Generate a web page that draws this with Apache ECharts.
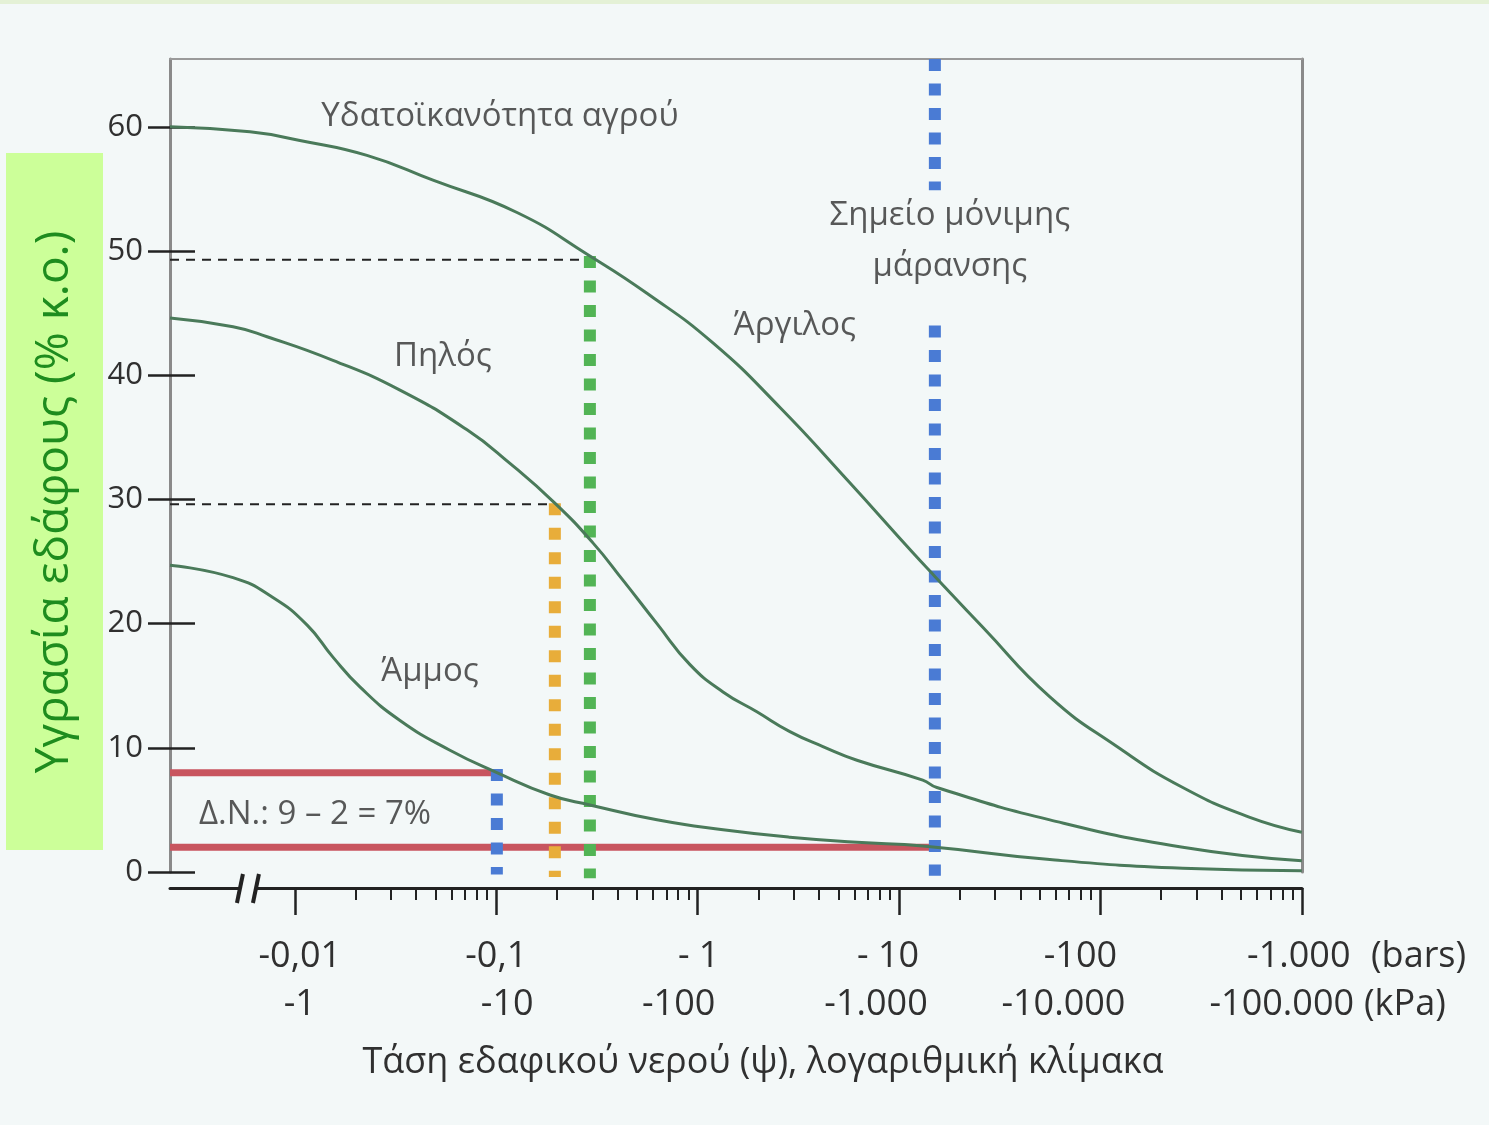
<!DOCTYPE html>
<html>
<head>
<meta charset="utf-8">
<script src="https://cdn.jsdelivr.net/npm/echarts@6/dist/echarts.min.js"></script>
<style>
  html, body { margin: 0; padding: 0; background: #f3f8f8; }
  #chart { width: 1489px; height: 1125px; }
</style>
</head>
<body>
<div id="chart"></div>
<script>
// x = log10(|ψ| σε bars), y = υγρασία εδάφους (% κ.ο.)
const clayX = [-2.62, -2.223, -1.975, -1.642, -1.314, -0.897, -0.535, -0.252, 0.076, 0.409, 0.741, 1.069, 1.178, 1.416, 1.749, 2.082, 2.409, 2.742, 3.0];
const clayY = [60.0, 59.6, 58.9, 57.7, 55.7, 53.1, 49.6, 46.6, 42.6, 37.4, 31.6, 25.7, 23.8, 19.7, 14.1, 10.1, 6.8, 4.4, 3.2];

const loamX = [-2.62, -2.307, -2.138, -1.811, -1.478, -1.145, -0.932, -0.709, -0.520, -0.371, -0.202, -0.038, 0.126, 0.294, 0.458, 0.622, 0.791, 1.118, 1.188, 1.749, 2.409, 3.0];
const loamY = [44.6, 43.9, 43.1, 41.2, 38.8, 35.6, 32.9, 29.7, 26.5, 23.5, 20.0, 16.7, 14.5, 12.9, 11.3, 10.1, 9.0, 7.4, 6.8, 4.2, 2.0, 0.9];

const sandX = [-2.62, -2.307, -2.109, -1.940, -1.811, -1.677, -1.478, -1.230, -0.997, -0.733, -0.535, -0.202, 0.126, 0.458, 0.791, 1.118, 1.749, 2.409, 3.0];
const sandY = [24.7, 23.7, 22.1, 19.9, 17.3, 14.9, 12.2, 9.8, 8.0, 6.2, 5.4, 4.2, 3.4, 2.8, 2.4, 2.1, 1.0, 0.3, 0.1];

// ψ των κατακόρυφων γραμμών (log10 bars)
const fcClayX = -0.535;   // πράσινη
const fcLoamX = -0.709;   // πορτοκαλί
const fcSandX = -0.997;   // μπλε (άμμος)
const wpX = 1.178;        // σημείο μόνιμης μάρανσης

// Δ.Ν. άμμου
const awcTop = 8.0;
const awcBottom = 2.0;

// άξονες
const xMin = -2.62, xMax = 3.001;
const yMin = 0, yMax = 65.46;
const yTicks = [0, 10, 20, 30, 40, 50, 60];
const xMajor = [-2, -1, 0, 1, 2, 3];
const barLabels = ['-0,01', '-0,1', '- 1', '- 10', '-100', '-1.000'];
const kpaLabels = ['-1', '-10', '-100', '-1.000', '-10.000', '-100.000'];
const unitLabels = ['(bars)', '(kPa)'];

const annoText = ['Υδατοϊκανότητα αγρού', 'Σημείο μόνιμης\nμάρανσης', 'Άργιλος', 'Πηλός', 'Άμμος', 'Δ.Ν.: 9 – 2 = 7%'];
const annoX = [-0.982, 1.252, 0.483, -1.265, -1.329, -1.900];
const annoY = [60.8, 50.8, 44.0, 41.5, 16.1, 4.6];

// --- styling ---
const FONT = "'Open Sans', 'Noto Sans', sans-serif";
const TXT = '#303030';
const CURVE = '#4a7a5a';
const barShift = [5, 0, 1, -11, -20, -3];
const kpaShift = [5, 11, -19, -23, -37, -20];
const unitGap = [69, 62];

var xMinor = [];
for (var d = -2; d < 3; d++) {
    for (var k = 2; k <= 9; k++) xMinor.push(d + Math.log10(k));
}

var rich = {};
function spacer(w) {
    rich['s' + w] = { width: w, fontSize: 36 };
    return '{s' + w + '| }';
}
function shifted(text, dx) {
    if (!dx) return text;
    var sp = spacer(Math.abs(dx) * 2);
    return dx > 0 ? sp + text : text + sp;
}
var xLabelText = xMajor.map(function (v, i) {
    return shifted(barLabels[i], barShift[i]) + '\n' + shifted(kpaLabels[i], kpaShift[i]);
});
var unitText = spacer(unitGap[0]) + unitLabels[0] + '\n' + spacer(unitGap[1]) + unitLabels[1];

function pairs(xs, ys) {
    return xs.map(function (x, i) { return [x, ys[i]]; });
}

function curve(name, xs, ys) {
    return {
        name: name, type: 'line', data: pairs(xs, ys),
        smooth: 0.5, symbol: 'none', z: 5,
        lineStyle: { color: CURVE, width: 3 }
    };
}

function dotted(x, top, bottom, color) {
    return {
        type: 'line', data: [[x, top], [x, bottom]], symbol: 'none', clip: false, z: 4,
        lineStyle: { color: color, width: 12, type: [12, 12.5], cap: 'butt' }
    };
}

function hline(y, x0, x1, style) {
    return { type: 'line', data: [[x0, y], [x1, y]], symbol: 'none', z: 3, lineStyle: style };
}

var chart = echarts.init(document.getElementById('chart'));

var baseX = { type: 'value', min: xMin, max: xMax, splitLine: { show: false } };
var baseY = { type: 'value', min: yMin, max: yMax, splitLine: { show: false } };
var labelFont = { fontSize: 36, lineHeight: 48, color: TXT, fontFamily: FONT };

var option = {
    backgroundColor: '#f3f8f8',
    animation: false,
    textStyle: { fontFamily: FONT },
    grid: { left: 170, right: 187, top: 59, bottom: 253 },
    xAxis: [
        Object.assign({}, baseX, {
            position: 'bottom', offset: 16,
            axisLine: { onZero: false, lineStyle: { color: '#222', width: 3 } },
            axisTick: { customValues: xMajor, length: 27, lineStyle: { color: '#222', width: 2.5 } },
            axisLabel: Object.assign({
                customValues: xMajor, margin: 45,
                showMaxLabel: true, showMinLabel: true, hideOverlap: false,
                formatter: function (v) { return xLabelText[xMajor.indexOf(v)]; },
                rich: rich
            }, labelFont),
            name: 'Τάση εδαφικού νερού (ψ), λογαριθμική κλίμακα',
            nameLocation: 'middle', nameGap: 157,
            nameTextStyle: { fontSize: 36, color: TXT, fontFamily: FONT, padding: [0, 0, 0, 54] }
        }),
        Object.assign({}, baseX, {
            position: 'bottom', offset: 16,
            axisLine: { show: false, onZero: false },
            axisTick: { customValues: xMinor, length: 12, lineStyle: { color: '#222', width: 2 } },
            axisLabel: Object.assign({
                customValues: [xMax], margin: 45, align: 'left',
                showMaxLabel: true, hideOverlap: false,
                formatter: function () { return unitText; },
                rich: rich
            }, labelFont)
        }),
        Object.assign({}, baseX, {
            position: 'top',
            axisLine: { onZero: false, lineStyle: { color: '#9a9a9a', width: 2 } },
            axisTick: { show: false }, axisLabel: { show: false }
        })
    ],
    yAxis: [
        Object.assign({}, baseY, {
            position: 'left',
            axisLine: { show: true, onZero: false, lineStyle: { color: '#8a8a8a', width: 3 } },
            axisTick: { show: true, customValues: yTicks, length: 22, lineStyle: { color: '#222', width: 2.5 } },
            axisLabel: { customValues: yTicks, margin: 27, fontSize: 31, color: TXT, fontFamily: FONT }
        }),
        Object.assign({}, baseY, {
            position: 'left',
            axisLine: { show: false, onZero: false },
            axisTick: { show: true, inside: true, customValues: yTicks, length: 25, lineStyle: { color: '#222', width: 2.5 } },
            axisLabel: { show: false }
        }),
        Object.assign({}, baseY, {
            position: 'right',
            axisLine: { show: true, onZero: false, lineStyle: { color: '#8a8a8a', width: 3 } },
            axisTick: { show: false }, axisLabel: { show: false }
        })
    ],
    series: [
        hline(49.3, xMin, fcClayX, { color: '#222', width: 2, type: [9, 7] }),
        hline(29.6, xMin, fcLoamX, { color: '#222', width: 2, type: [9, 7] }),
        hline(awcTop, xMin, fcSandX, { color: '#c8555f', width: 7 }),
        hline(awcBottom, xMin, wpX, { color: '#c8555f', width: 7 }),
        dotted(fcClayX, 49.6, -0.5, '#52b455'),
        dotted(fcLoamX, 29.7, -0.4, '#e8ad3a'),
        dotted(fcSandX, 8.3, -0.2, '#4a7bd4'),
        dotted(wpX, yMax, 54.9, '#4a7bd4'),
        dotted(wpX, 44.0, -0.3, '#4a7bd4'),
        curve('Άργιλος', clayX, clayY),
        curve('Πηλός', loamX, loamY),
        curve('Άμμος', sandX, sandY),
        {
            type: 'scatter', symbolSize: 1, z: 6,
            itemStyle: { color: 'rgba(0,0,0,0)' },
            data: annoText.map(function (t, i) { return { name: t, value: [annoX[i], annoY[i]] }; }),
            label: {
                show: true, position: 'inside', formatter: function (p) { return p.name; },
                fontSize: 33, lineHeight: 51, color: TXT, fontFamily: FONT, align: 'center'
            }
        }
    ]
};
chart.setOption(option);

// διακοπή άξονα "//" και ετικέτα άξονα y
var breakX = -2.233;
var bx = chart.convertToPixel({ xAxisIndex: 0 }, breakX);
var ay = chart.convertToPixel({ yAxisIndex: 0 }, 0) + 16;
chart.setOption({
    graphic: [
        { type: 'rect', shape: { x: 0, y: 0, width: 1489, height: 4 }, style: { fill: '#e4f1d6' } },
        { type: 'rect', shape: { x: bx - 7, y: ay - 3, width: 14, height: 6 }, style: { fill: '#f3f8f8' }, z: 10 },
        { type: 'line', shape: { x1: bx - 11, y1: ay + 15, x2: bx - 5, y2: ay - 14 }, style: { stroke: '#222', lineWidth: 4 }, z: 11 },
        { type: 'line', shape: { x1: bx + 5, y1: ay + 15, x2: bx + 11, y2: ay - 14 }, style: { stroke: '#222', lineWidth: 4 }, z: 11 },
        { type: 'rect', shape: { x: 6, y: 153, width: 97, height: 697 }, style: { fill: '#ccff99' }, z: 10 },
        {
            type: 'text', x: 55, y: 502, rotation: Math.PI / 2, z: 11,
            style: {
                text: 'Υγρασία εδάφους (% κ.ο.)', fontSize: 46, fontFamily: FONT,
                fill: '#1e8c1e', align: 'center', verticalAlign: 'middle'
            }
        }
    ]
});
</script>
</body>
</html>
